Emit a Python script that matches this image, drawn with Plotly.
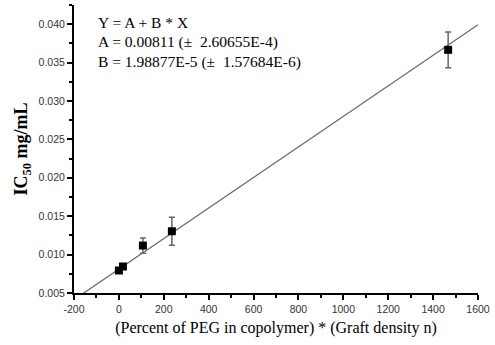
import plotly.graph_objects as go

# Data
x_vals = [0, 18, 107, 236, 1467]
y_vals = [0.00793, 0.00845, 0.01118, 0.01304, 0.03666]
y_err = [0.0002, 0.0002, 0.00099, 0.00182, 0.00234]

fit_A = 0.00811
fit_B = 1.98877e-5

eq_lines = [
    "Y = A + B * X",
    "A = 0.00811 (\u00b1  2.60655E-4)",
    "B = 1.98877E-5 (\u00b1  1.57684E-6)",
]

x_ticks = [-200, 0, 200, 400, 600, 800, 1000, 1200, 1400, 1600]
x_tick_labels = ["-200", "0", "200", "400", "600", "800", "1000", "1200", "1400", "1600"]
y_ticks = [0.005, 0.010, 0.015, 0.020, 0.025, 0.030, 0.035, 0.040]

x_range = [-200, 1600]
y_range = [0.005, 0.0425]

fit_x = [x_range[0], x_range[1]]
fit_y = [fit_A + fit_B * v for v in fit_x]

fig = go.Figure()
fig.add_trace(go.Scatter(
    x=fit_x, y=fit_y, mode="lines",
    line=dict(color="#6e6e6e", width=1.3),
    showlegend=False, hoverinfo="skip",
))
fig.add_trace(go.Scatter(
    x=x_vals, y=y_vals, mode="markers",
    marker=dict(symbol="square", size=8, color="black"),
    error_y=dict(type="data", array=y_err, visible=True,
                 color="#666666", thickness=1.5, width=3),
    showlegend=False,
))

serif = "Liberation Serif, Times New Roman, serif"
sans = "Liberation Sans, Arial, sans-serif"

ann_y = [0.04017, 0.03764, 0.03510]
for txt, yy in zip(eq_lines, ann_y):
    fig.add_annotation(
        x=-103, y=yy, xref="x", yref="y", text=txt, showarrow=False,
        xanchor="left", yanchor="middle",
        font=dict(family=serif, size=15.5, color="black"),
    )

fig.update_layout(
    width=495, height=345,
    margin=dict(l=74, r=15, t=5, b=52),
    paper_bgcolor="white", plot_bgcolor="white",
    xaxis=dict(
        range=x_range, tickvals=x_ticks, ticktext=x_tick_labels,
        showgrid=False, zeroline=False, showline=True, linecolor="black",
        linewidth=2, mirror=False, ticks="outside", ticklen=5, tickwidth=1.5,
        tickcolor="black",
        minor=dict(dtick=100, ticks="outside", ticklen=3, tickwidth=1.5, tickcolor="black"),
        tickfont=dict(family=sans, size=10.5, color="#333333"),
        title=dict(text="(Percent of PEG in copolymer) * (Graft density n)",
                   font=dict(family=serif, size=16, color="black"), standoff=8),
    ),
    yaxis=dict(
        range=y_range, tickvals=y_ticks, tickformat=".3f",
        showgrid=False, zeroline=False, showline=True, linecolor="black",
        linewidth=2, mirror=False, ticks="outside", ticklen=5, tickwidth=1.5,
        tickcolor="black",
        minor=dict(dtick=0.0025, tick0=0.005, ticks="outside", ticklen=3, tickwidth=1.5, tickcolor="black"),
        tickfont=dict(family=sans, size=10.5, color="#333333"),
        title=dict(text="<b>IC<sub>50</sub> mg/mL</b>",
                   font=dict(family=serif, size=18, color="black"), standoff=6),
    ),
)

fig.write_html("out.html")
